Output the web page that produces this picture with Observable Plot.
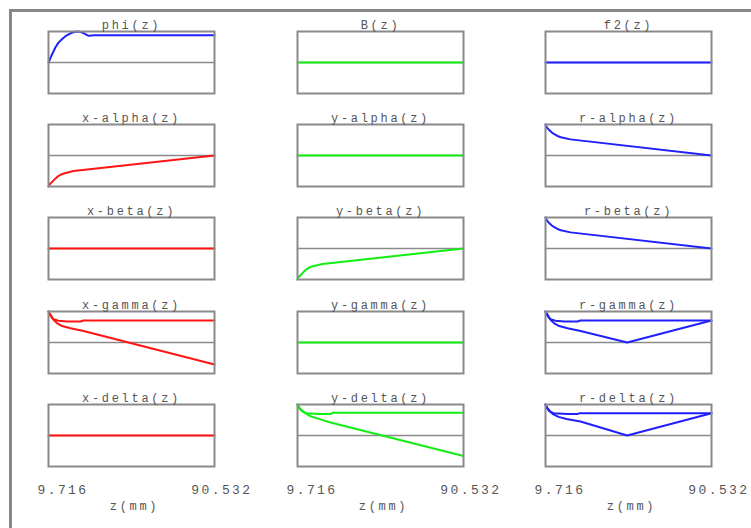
<!DOCTYPE html>
<html><head><meta charset="utf-8">
<script src="https://cdn.jsdelivr.net/npm/d3@7"></script>
<script src="https://cdn.jsdelivr.net/npm/@observablehq/plot@0.6"></script>
<style>
html,body{margin:0;padding:0;background:#fff;}
#chart{position:relative;width:751px;height:528px;overflow:hidden;background:#fff;}
#border{position:absolute;left:9px;top:9px;width:800px;height:600px;border-left:3px solid #878787;border-top:3px solid #878787;box-sizing:border-box;}
#chart svg{position:absolute;overflow:visible;background:none;}
g[font-size="12"] text{letter-spacing:2.7px;}
g[font-size="13"] text{letter-spacing:2.4px;}
</style></head>
<body><div id="chart"><div id="border"></div></div>
<script>
// ---- data ----
const zTicks = [9.716, 90.532];
const xLabel = "z(mm)";
const panelTitles = ["phi(z)","B(z)","f2(z)","x-alpha(z)","y-alpha(z)","r-alpha(z)","x-beta(z)","y-beta(z)","r-beta(z)","x-gamma(z)","y-gamma(z)","r-gamma(z)","x-delta(z)","y-delta(z)","r-delta(z)"];
const panelColors = ["#2020ff","#11ee11","#2020ff","#ff1414","#11ee11","#2020ff","#ff1414","#11ee11","#2020ff","#ff1414","#11ee11","#2020ff","#ff1414","#11ee11","#2020ff"];

const flatZ = [9.716, 90.532];
const flatV = [0, 0];

const phiZ = [9.716, 11.42, 13.12, 14.58, 16.39, 18.24, 20.43, 22.86, 25.29, 27.24, 29.19, 32.11, 90.532];
const phiV = [0, 0.26, 0.49, 0.64, 0.76, 0.86, 0.94, 1.0, 0.99, 0.93, 0.86, 0.88, 0.88];

const alphaZ = [9.716, 10.45, 11.52, 12.64, 13.95, 15.56, 17.17, 21.89, 90.532];
const xAlphaV = [-1, -0.92, -0.85, -0.77, -0.69, -0.62, -0.58, -0.5, 0];
const rAlphaV = [1, 0.9, 0.82, 0.75, 0.69, 0.63, 0.59, 0.52, 0];
const yBetaV = [-1, -0.91, -0.84, -0.76, -0.68, -0.61, -0.57, -0.5, 0];
const rBetaV = [1, 0.9, 0.82, 0.75, 0.69, 0.63, 0.59, 0.52, 0];

const gammaUpZ = [9.716, 10.45, 11.66, 12.15, 14.58, 18.96, 25.29, 26.76, 90.532];
const gammaUpV = [1, 0.88, 0.78, 0.75, 0.70, 0.68, 0.68, 0.71, 0.71];
const xGammaLowZ = [9.716, 10.69, 12.15, 13.95, 16.39, 20.43, 26.76, 90.532];
const xGammaLowV = [1, 0.9, 0.73, 0.62, 0.53, 0.46, 0.37, -0.71];
const rGammaLowZ = [9.716, 10.69, 12.15, 13.95, 16.39, 20.43, 26.76, 49.49, 90.532];
const rGammaLowV = [1, 0.9, 0.73, 0.62, 0.53, 0.46, 0.37, 0, 0.71];

const yDeltaUpZ = [9.716, 10.45, 11.66, 13.61, 20.91, 25.78, 26.76, 90.532];
const yDeltaUpV = [1, 0.88, 0.8, 0.72, 0.69, 0.69, 0.73, 0.73];
const yDeltaLowZ = [9.716, 10.69, 12.64, 16.04, 20.91, 25.78, 90.532];
const yDeltaLowV = [1, 0.9, 0.76, 0.62, 0.52, 0.42, -0.66];
const rDeltaUpZ = [9.716, 10.45, 11.66, 13.61, 20.43, 25.29, 26.27, 90.532];
const rDeltaUpV = [1, 0.88, 0.78, 0.72, 0.69, 0.69, 0.72, 0.72];
const rDeltaLowZ = [9.716, 10.69, 12.15, 13.61, 16.04, 19.94, 26.76, 49.49, 90.532];
const rDeltaLowV = [1, 0.88, 0.76, 0.68, 0.6, 0.53, 0.45, 0, 0.72];

const panelSeries = [
  [[phiZ, phiV]], [[flatZ, flatV]], [[flatZ, flatV]],
  [[alphaZ, xAlphaV]], [[flatZ, flatV]], [[alphaZ, rAlphaV]],
  [[flatZ, flatV]], [[alphaZ, yBetaV]], [[alphaZ, rBetaV]],
  [[gammaUpZ, gammaUpV], [xGammaLowZ, xGammaLowV]], [[flatZ, flatV]], [[gammaUpZ, gammaUpV], [rGammaLowZ, rGammaLowV]],
  [[flatZ, flatV]], [[yDeltaUpZ, yDeltaUpV], [yDeltaLowZ, yDeltaLowV]], [[rDeltaUpZ, rDeltaUpV], [rDeltaLowZ, rDeltaLowV]]
];

// ---- layout ----
const colLeft = [48, 297, 545];
const rowTop = [31, 124, 217, 311, 404];
const boxW = 166, boxH = 62;
const mL = 40, mR = 43, mT = 22;
const font = "Liberation Mono, Courier New, monospace";
const textFill = "#555";
const gray = "#8a8a8a";

const chart = document.getElementById("chart");
panelTitles.forEach((title, i) => {
  const col = i % 3, row = Math.floor(i / 3);
  const bottom = row === 4;
  const mB = bottom ? 60 : 11;
  const rows = [];
  panelSeries[i].forEach(([zs, vs], s) => zs.forEach((z, k) => rows.push({pos: z, v: vs[k], s})));
  const marks = [
    Plot.ruleY([0], {stroke: gray, strokeWidth: 1.5}),
    Plot.line(rows, {x: "pos", y: "v", z: "s", stroke: panelColors[i], strokeWidth: 2}),
    Plot.frame({stroke: gray, strokeWidth: 2}),
    Plot.text([title], {frameAnchor: "top", dy: -11, text: d => d, fontFamily: font, fontSize: 12, fill: textFill})
  ];
  if (bottom) {
    marks.push(
      Plot.text([zTicks[0]], {x: d => d, frameAnchor: "bottom", dy: 27, dx: -11, textAnchor: "start", text: d => String(d), fontFamily: font, fontSize: 13, fill: textFill}),
      Plot.text([zTicks[1]], {x: d => d, frameAnchor: "bottom", dy: 27, dx: 38, textAnchor: "end", text: d => String(d), fontFamily: font, fontSize: 13, fill: textFill}),
      Plot.text([xLabel], {frameAnchor: "bottom", dy: 43, dx: 3, text: d => d, fontFamily: font, fontSize: 12, fill: textFill})
    );
  }
  const svg = Plot.plot({
    width: mL + boxW + mR,
    height: mT + boxH + mB,
    marginLeft: mL, marginRight: mR, marginTop: mT, marginBottom: mB,
    x: {domain: zTicks, axis: null},
    y: {domain: [-1, 1], axis: null},
    marks
  });
  svg.style.left = (colLeft[col] - mL) + "px";
  svg.style.top = (rowTop[row] - mT) + "px";
  chart.appendChild(svg);
});
</script></body></html>
